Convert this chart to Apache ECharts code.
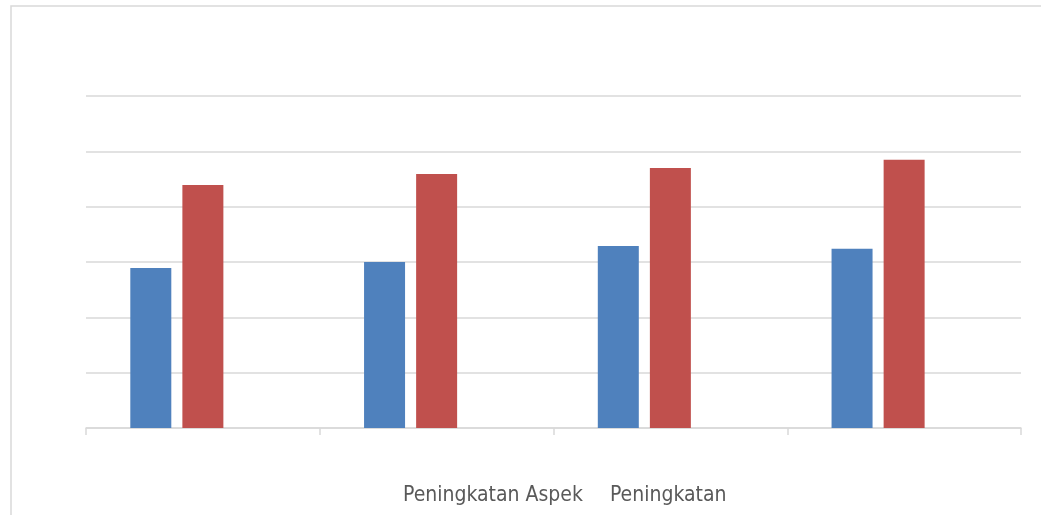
<!DOCTYPE html>
<html>
<head>
<meta charset="utf-8">
<script src="https://cdn.jsdelivr.net/npm/echarts@6/dist/echarts.min.js"></script>
<style>
html,body{margin:0;padding:0;background:#fff;}
#chart{width:1041px;height:515px;}
</style>
</head>
<body>
<div id="chart"></div>
<script>
// data
var categories = ['1', '2', '3', '4'];
var seriesNames = ['Peningkatan Aspek', 'Peningkatan', ''];
var aspekVals = [2.89, 3.0, 3.29, 3.24];
var peningVals = [4.39, 4.59, 4.70, 4.85];
var emptyVals = ['-', '-', '-', '-'];
var yTicks = [0, 1, 2, 3, 4, 5, 6];

var chart = echarts.init(document.getElementById('chart'));
var option = {
    animation: false,
    backgroundColor: '#fff',
    graphic: [{
        type: 'rect',
        shape: {x: 11, y: 6, width: 1100, height: 600},
        style: {fill: 'none', stroke: '#d9d9d9', lineWidth: 1.5},
        silent: true
    }],
    grid: {left: 86, right: 20, top: 96, bottom: 87},
    legend: {
        data: [seriesNames[0], seriesNames[1]],
        top: 485,
        left: 398,
        padding: 0,
        itemWidth: 0,
        itemHeight: 0,
        itemGap: 22,
        icon: 'rect',
        textStyle: {
            color: '#595959',
            fontFamily: 'DejaVu Sans Condensed',
            fontSize: 21,
            padding: 0
        }
    },
    xAxis: {
        type: 'category',
        data: categories,
        axisLine: {lineStyle: {color: '#d9d9d9', width: 1.5}},
        axisTick: {show: true, length: 7, lineStyle: {color: '#d9d9d9', width: 1.5}},
        axisLabel: {show: false}
    },
    yAxis: {
        type: 'value',
        min: yTicks[0],
        max: yTicks[yTicks.length - 1],
        interval: 1,
        axisLine: {show: false},
        axisTick: {show: false},
        axisLabel: {show: false},
        splitLine: {lineStyle: {color: '#d9d9d9', width: 1.5}}
    },
    series: [
        {
            name: seriesNames[0],
            type: 'bar',
            data: aspekVals,
            barWidth: 41,
            barGap: '27%',
            itemStyle: {color: '#4F81BD'}
        },
        {
            name: seriesNames[1],
            type: 'bar',
            data: peningVals,
            barWidth: 41,
            barGap: '27%',
            itemStyle: {color: '#C0504D'}
        },
        {
            name: seriesNames[2],
            type: 'bar',
            data: emptyVals,
            barWidth: 41,
            barGap: '27%',
            itemStyle: {color: '#9BBB59'}
        }
    ]
};
chart.setOption(option);
</script>
</body>
</html>
